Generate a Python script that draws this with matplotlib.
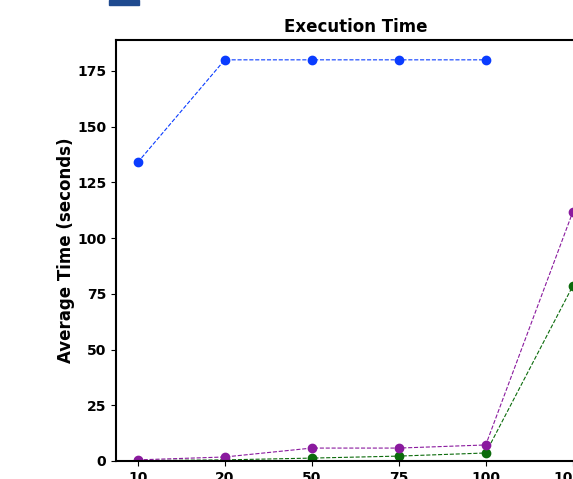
import matplotlib
matplotlib.use('Agg')
import matplotlib.pyplot as plt
from matplotlib.patches import Rectangle

# Datos
sizes = ['10', '20', '50', '75', '100', '1000']
time_blue = [134, 180, 180, 180, 180]
time_purple = [0.5, 1.8, 5.8, 5.8, 7.2, 111.7]
time_green = [0.2, 0.5, 1.3, 2.2, 3.6, 78.5]

W, H = 573, 479
fig = plt.figure(figsize=(W / 100, H / 100), dpi=100)

# los ejes se salen por la derecha y por abajo (recorte)
left, top, bottom = 116, 40, 461
width = 478.5
ax = fig.add_axes([left / W, (H - bottom) / H, width / W, (bottom - top) / H])

x = list(range(len(sizes)))
ax.plot(x[:len(time_blue)], time_blue, 'o--', color='#0a3cff', lw=0.8, ms=6)
ax.plot(x, time_green, 'o--', color='#0b6b0b', lw=0.8, ms=6)
ax.plot(x, time_purple, 'o--', color='#8a1a9e', lw=0.8, ms=6)

ax.set_xticks(x)
ax.set_xticklabels(sizes)
ax.set_xlim(-0.25, 5.25)
ax.set_ylim(0, 188.9)
ax.set_yticks([0, 25, 50, 75, 100, 125, 150, 175])

ax.set_title('Execution Time', fontweight='bold', fontsize=12)
ax.set_ylabel('Average Time (seconds)', fontweight='bold', fontsize=12, labelpad=1.5)
for lab in ax.get_xticklabels() + ax.get_yticklabels():
    lab.set_fontweight('bold')
    lab.set_fontsize(10)
for s in ax.spines.values():
    s.set_linewidth(1.5)

# trozo azul de arriba
fig.patches.append(Rectangle((109 / W, (H - 5) / H), 30 / W, 5 / H,
                             transform=fig.transFigure, color='#1f4a8f', figure=fig))

fig.savefig('out.png', dpi=100)
